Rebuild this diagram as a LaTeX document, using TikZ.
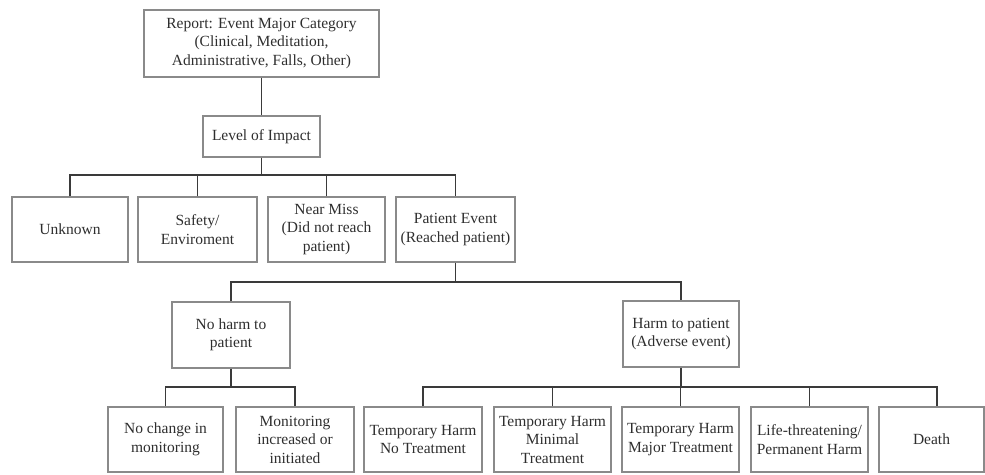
\documentclass[tikz,border=0pt]{standalone}
\usepackage{fontspec}
\setmainfont{Liberation Serif}
\definecolor{boxline}{HTML}{8A8A8A}
\definecolor{conline}{HTML}{3A3A3A}
\definecolor{txt}{HTML}{2E2E2E}
\begin{document}
\begin{tikzpicture}[x=1pt,y=-1pt,
  box/.style={draw=boxline, line width=1.1pt, rectangle, inner sep=0pt, align=center,
    text=txt, font=\fontsize{15.5}{18.5}\selectfont},
  con/.style={draw=conline, line width=1.5pt}]
\useasboundingbox (0,0) rectangle (985,474);
% level 0/1
\node[box, minimum width=235pt, minimum height=67pt] (top) at (261.5,43.5)
  {Report: Event Major Category\\(Clinical, Meditation,\\Administrative, Falls, Other)};
\node[box, minimum width=117pt, minimum height=41pt] (impact) at (261.5,136.5) {Level of Impact};
% level 2
\node[box, minimum width=116pt, minimum height=65pt] (unknown) at (70,229.5) {Unknown};
\node[box, minimum width=119pt, minimum height=65pt] (safety) at (197.5,229.5) {Safety/\\Enviroment};
\node[box, minimum width=117pt, minimum height=65pt] (nearmiss) at (326.5,229.5) {Near Miss\\(Did not reach\\patient)};
\node[box, minimum width=119pt, minimum height=65pt] (patient) at (455.5,229.5) {Patient Event\\(Reached patient)};
% level 3
\node[box, minimum width=118pt, minimum height=66pt] (noharm) at (231,335) {No harm to\\patient};
\node[box, minimum width=116pt, minimum height=66pt] (harm) at (681,334) {Harm to patient\\(Adverse event)};
% level 4
\node[box, minimum width=115pt, minimum height=65pt] (nochange) at (165.5,439.5) {No change in\\monitoring};
\node[box, minimum width=118pt, minimum height=65pt] (monitor) at (295,439.5) {Monitoring\\increased or\\initiated};
\node[box, minimum width=118pt, minimum height=65pt] (thone) at (423,439.5) {Temporary Harm\\No Treatment};
\node[box, minimum width=117pt, minimum height=65pt] (thtwo) at (552.5,439.5) {Temporary Harm\\Minimal\\Treatment};
\node[box, minimum width=117pt, minimum height=65pt] (ththree) at (680.5,439.5) {Temporary Harm\\Major Treatment};
\node[box, minimum width=117pt, minimum height=65pt] (life) at (809.5,439.5) {Life-threatening/\\Permanent Harm};
\node[box, minimum width=105pt, minimum height=65pt] (death) at (931.5,439.5) {Death};
\coordinate (deathin) at ([xshift=5.5pt]death.north);
% bus coordinates
\coordinate (busa) at (0,175);
\coordinate (busb) at (0,282);
\coordinate (busc) at (0,387);
% connectors
\draw[con] (top.south) -- (impact.north);
\draw[con] (impact.south) -- (impact.south |- busa);
\draw[con] (unknown.north) -- (unknown.north |- busa) -- (patient.north |- busa) -- (patient.north);
\draw[con] (safety.north) -- (safety.north |- busa);
\draw[con] (nearmiss.north) -- (nearmiss.north |- busa);
\draw[con] (patient.south) -- (patient.south |- busb);
\draw[con] (noharm.north) -- (noharm.north |- busb) -- (harm.north |- busb) -- (harm.north);
\draw[con] (noharm.south) -- (noharm.south |- busc);
\draw[con] (nochange.north) -- (nochange.north |- busc) -- (monitor.north |- busc) -- (monitor.north);
\draw[con] (harm.south) -- (harm.south |- busc);
\draw[con] (thone.north) -- (thone.north |- busc) -- (deathin |- busc) -- (deathin);
\draw[con] (thtwo.north) -- (thtwo.north |- busc);
\draw[con] (ththree.north) -- (ththree.north |- busc);
\draw[con] (life.north) -- (life.north |- busc);
\end{tikzpicture}
\end{document}
